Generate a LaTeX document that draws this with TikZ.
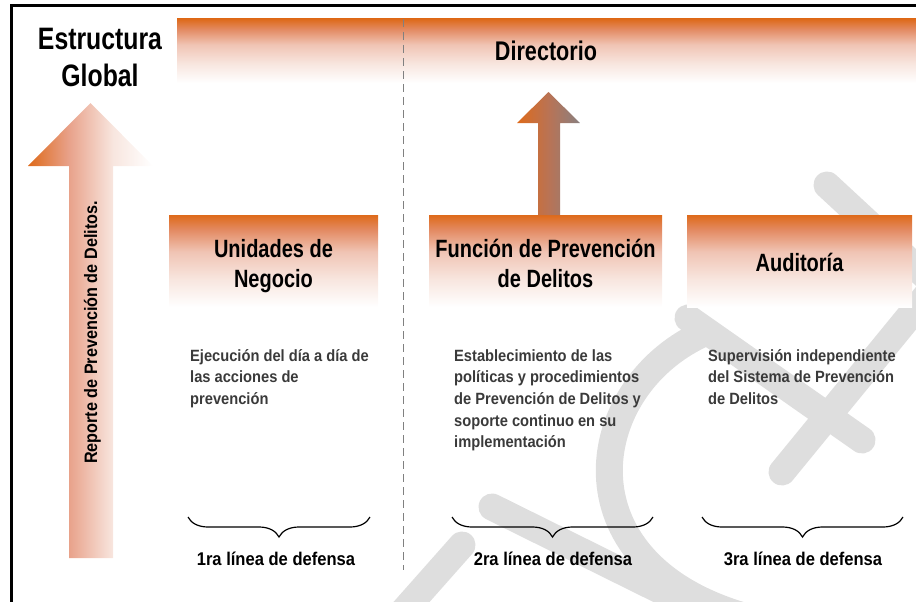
\documentclass[tikz,border=0pt]{standalone}
\usepackage{fontspec}
\setmainfont{Liberation Sans}
\newfontfamily\titlefont[FakeStretch=0.8]{Liberation Sans}
\newfontfamily\bodyfont[FakeStretch=0.9]{Liberation Sans}
\usetikzlibrary{decorations.pathreplacing}
\definecolor{deeporange}{RGB}{222,106,26}
\definecolor{midorange}{RGB}{227,138,98}
\definecolor{paleorange}{RGB}{240,196,180}
\definecolor{blushorange}{RGB}{248,230,223}
\definecolor{salmonorange}{RGB}{232,160,136}
\definecolor{rustgray}{RGB}{185,115,85}
\definecolor{arrowgray}{RGB}{138,128,128}
\definecolor{wmgray}{RGB}{222,222,222}
\definecolor{desctext}{RGB}{58,58,58}
\pgfdeclareverticalshading{orangefade}{100bp}{color(0bp)=(white); color(25bp)=(white);
  color(40bp)=(blushorange); color(55bp)=(paleorange); color(67bp)=(midorange);
  color(75bp)=(deeporange); color(100bp)=(deeporange)}
\pgfdeclarehorizontalshading{reportfade}{100bp}{color(0bp)=(deeporange); color(25bp)=(deeporange);
  color(41bp)=(salmonorange); color(59bp)=(blushorange); color(75bp)=(white); color(100bp)=(white)}
\pgfdeclarehorizontalshading{upfade}{100bp}{color(0bp)=(deeporange); color(25bp)=(deeporange);
  color(50bp)=(rustgray); color(75bp)=(arrowgray); color(100bp)=(arrowgray)}
\tikzstyle{wmark}=[line width=27pt, line cap=round, draw=wmgray]
\tikzstyle{unitbox}=[shading=orangefade, minimum height=92pt, inner sep=0]
\tikzstyle{boxtitle}=[inner sep=0, align=center, font=\titlefont\bfseries\fontsize{25}{30}\selectfont]
\tikzstyle{headtext}=[inner sep=0, anchor=base, font=\titlefont\bfseries\fontsize{31}{37}\selectfont]
% multi-line nodes: base is the baseline of the last line
\tikzstyle{desc}=[anchor=base west, align=left, inner sep=0, text=desctext,
                  font=\bodyfont\bfseries\fontsize{16.3}{21.7}\selectfont]
\tikzstyle{defensa}=[anchor=base, inner sep=0, font=\bodyfont\bfseries\fontsize{18.4}{22}\selectfont]
\tikzstyle{linebrace}=[decorate, decoration={brace, amplitude=20pt, mirror}, line width=1.2pt]
\tikzstyle{dashline}=[draw=gray, line width=1pt, dash pattern=on 8pt off 5pt]

\begin{document}
\begin{tikzpicture}[x=1pt, y=-1pt]
    \useasboundingbox (0,0) rectangle (916,602);
    % watermark
    \draw[wmark] (400,615) -- (462,545);
    \draw[wmark] (492,507) -- (710,615);
    \draw[wmark] (700,335) .. controls (585,390) and (560,560) .. (740,615);
    \draw[wmark] (688,318) -- (862,440);
    \draw[wmark] (782,472) -- (935,285);
    \draw[wmark] (827,185) -- (935,285);
    % frame and top bar
    \path[shading=orangefade] (177,19) rectangle (916,83);
    \draw[line width=3pt] (11,602) -- (11,6) -- (916,6);
    \node[headtext] (estructura) at (100,50) {Estructura};
    \node[headtext] (global) at (100,87) {Global};
    \node[headtext, font=\titlefont\bfseries\fontsize{27}{32}\selectfont] (directorio) at (546,60) {Directorio};
    % report arrow
    \path[shading=reportfade] (69,558) -- (69,166) -- (28,166) -- (90.5,103) -- (153,166)
        -- (113,166) -- (113,558) -- cycle;
    \node[rotate=90, anchor=base, inner sep=0, font=\bodyfont\bfseries\fontsize{18}{22}\selectfont]
        (reporte) at (97,332.5) {Reporte de Prevención de Delitos.};
    % boxes
    \node[unitbox, minimum width=209pt] (unidades) at (273.5,261) {};
    \node[unitbox, minimum width=233pt] (funcion) at (545.5,261) {};
    \node[unitbox, minimum width=225pt] (auditoria) at (799.5,261) {};
    \node[boxtitle] (unidadestxt) at ([yshift=-5pt]unidades.center) {Unidades de\\Negocio};
    \node[boxtitle] (funciontxt) at ([yshift=-2pt]funcion.center) {Función de Prevención\\de Delitos};
    \node[boxtitle] (auditoriatxt) at ([yshift=-1pt]auditoria.center) {Auditoría};
    % arrow to directorio
    \path[shading=upfade] (538,215) -- (538,123) -- (517,123) -- (548.5,92) -- (580,123)
        -- (560,123) -- (560,215) -- cycle;
    \draw[dashline] (403,19) -- (403,570);
    % descriptions
    \node[desc] (desc1) at (190,404.4) {Ejecución del día a día de\\las acciones de\\prevención};
    \node[desc] (desc2) at (454,447.8) {Establecimiento de las\\políticas y procedimientos\\de Prevención de Delitos y\\soporte continuo en su\\implementación};
    \node[desc] (desc3) at (708,404.4) {Supervisión independiente\\del Sistema de Prevención\\de Delitos};
    % lines of defence
    \coordinate (b1l) at (188,517);
    \coordinate (b1r) at (370,517);
    \coordinate (b2l) at (452,517);
    \coordinate (b2r) at (653,517);
    \coordinate (b3l) at (702,517);
    \coordinate (b3r) at (903,517);
    \draw[linebrace] (b1l) -- (b1r);
    \draw[linebrace] (b2l) -- (b2r);
    \draw[linebrace] (b3l) -- (b3r);
    \node[defensa] (linea1) at (276,565) {1ra línea de defensa};
    \node[defensa] (linea2) at (553,565) {2ra línea de defensa};
    \node[defensa] (linea3) at (803,565) {3ra línea de defensa};
\end{tikzpicture}
\end{document}
